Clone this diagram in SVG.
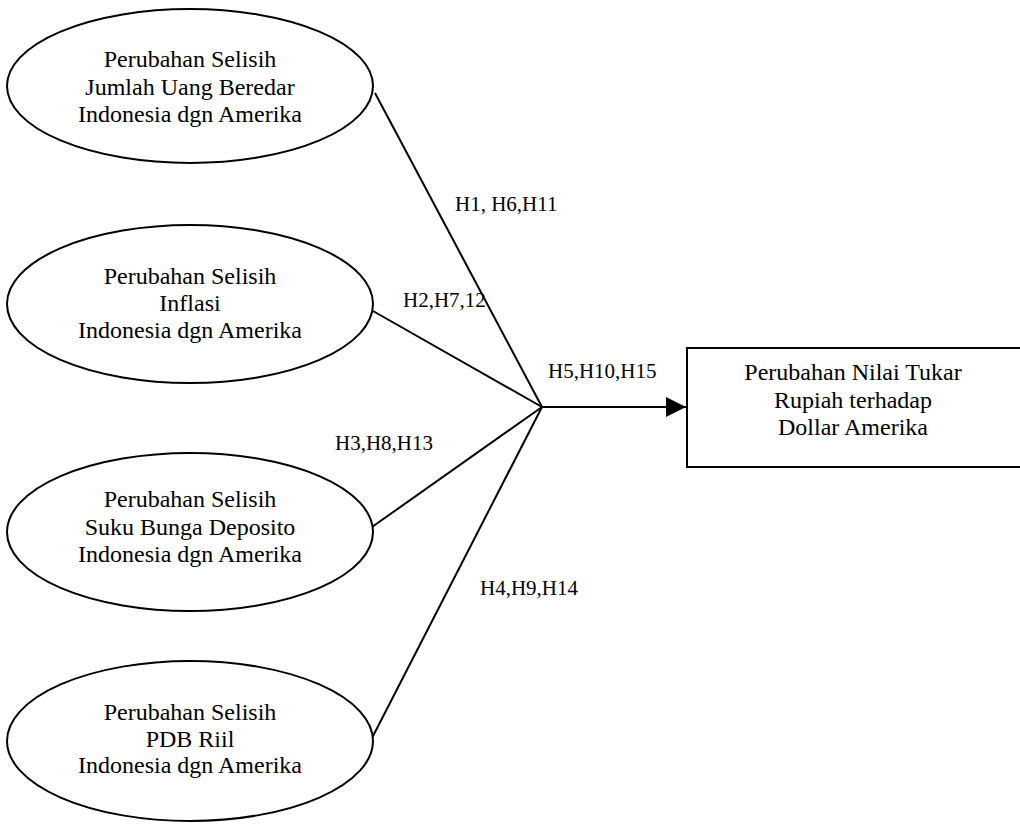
<svg xmlns="http://www.w3.org/2000/svg" width="1020" height="829" viewBox="0 0 1020 829">
<style>
.shape{fill:#fff;stroke:#000;stroke-width:2}
.t{font-family:"Liberation Serif","Times New Roman",serif;font-size:24px;fill:#000;text-anchor:middle}
.lbl{font-family:"Liberation Serif","Times New Roman",serif;font-size:21px;fill:#000}
.conn{stroke:#000;stroke-width:2;fill:none}
</style>
<defs>
<marker id="arr" markerUnits="userSpaceOnUse" markerWidth="22" markerHeight="22" refX="20" refY="10" orient="auto">
<path d="M0,0 L20,10 L0,20 Z" fill="#000"/>
</marker>
</defs>
<g id="connectors">
<line class="conn" x1="375" y1="93" x2="542" y2="407"/>
<line class="conn" x1="373" y1="311" x2="542" y2="407"/>
<line class="conn" x1="372" y1="527" x2="542" y2="407"/>
<line class="conn" x1="372" y1="738" x2="542" y2="407"/>
<line class="conn" x1="542" y1="407" x2="686" y2="407" marker-end="url(#arr)"/>
<text class="lbl" x="455" y="211">H1, H6,H11</text>
<text class="lbl" x="403" y="307">H2,H7,12</text>
<text class="lbl" x="548" y="378">H5,H10,H15</text>
<text class="lbl" x="335" y="450">H3,H8,H13</text>
<text class="lbl" x="480" y="595">H4,H9,H14</text>
</g>
<g id="n1">
<ellipse class="shape" cx="190" cy="86" rx="183" ry="77"/>
<text class="t" x="190" y="67">Perubahan Selisih</text>
<text class="t" x="190" y="95">Jumlah Uang Beredar</text>
<text class="t" x="190" y="122">Indonesia dgn Amerika</text>
</g>
<g id="n2">
<ellipse class="shape" cx="190" cy="304" rx="183" ry="79"/>
<text class="t" x="190" y="284">Perubahan Selisih</text>
<text class="t" x="190" y="311">Inflasi</text>
<text class="t" x="190" y="338">Indonesia dgn Amerika</text>
</g>
<g id="n3">
<ellipse class="shape" cx="190" cy="532" rx="183" ry="79"/>
<text class="t" x="190" y="507">Perubahan Selisih</text>
<text class="t" x="190" y="535">Suku Bunga Deposito</text>
<text class="t" x="190" y="562">Indonesia dgn Amerika</text>
</g>
<g id="n4">
<ellipse class="shape" cx="190" cy="741" rx="183" ry="80"/>
<text class="t" x="190" y="720">Perubahan Selisih</text>
<text class="t" x="190" y="747">PDB Riil</text>
<text class="t" x="190" y="773">Indonesia dgn Amerika</text>
</g>
<g id="n5">
<rect class="shape" x="687" y="348" width="345" height="119"/>
<text class="t" x="853" y="380">Perubahan Nilai Tukar</text>
<text class="t" x="853" y="408">Rupiah terhadap</text>
<text class="t" x="853" y="435">Dollar Amerika</text>
</g>
</svg>
